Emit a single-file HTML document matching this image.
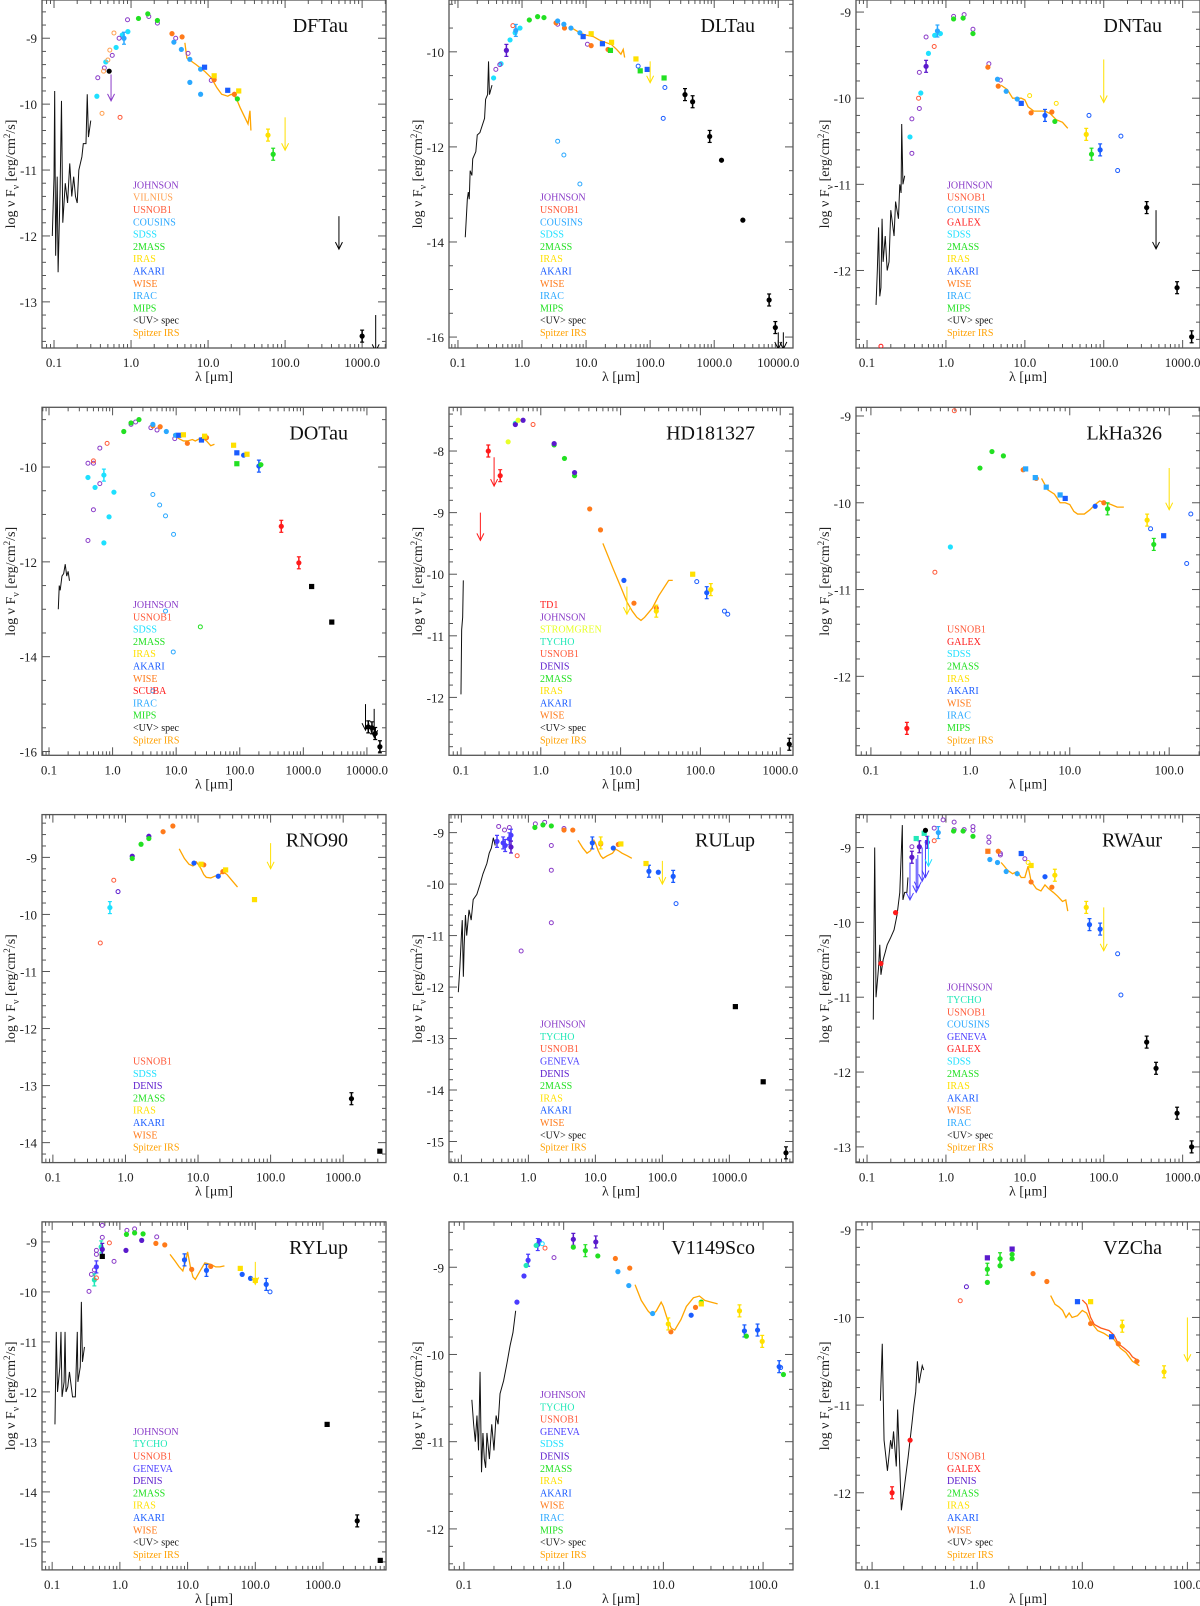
<!DOCTYPE html>
<html><head><meta charset="utf-8">
<style>
html,body{margin:0;padding:0;background:#fff;}
svg{display:block;font-family:"Liberation Serif",serif;}
</style></head>
<body>
<svg id="fig" width="1200" height="1606" viewBox="0 0 1200 1606" xmlns="http://www.w3.org/2000/svg"></svg>
<script>
// ---- Colors per photometric system ----
const COL = {J:'#8a3cc8',V:'#ffa050',U:'#ff5a3a',C:'#2aa8ff',S:'#1ee0ff',M2:'#22e022',I:'#ffe000',A:'#1a5cff',W:'#ff7a1a',IR:'#2aa8ff',MI:'#22e022',UV:'#000',IRS:'#ffa000',G:'#ff1a1a',D:'#5a1acc',T:'#22e8b8',GE:'#4a3cff',SC:'#ff1a1a',TD:'#ff1a1a',ST:'#e8ff2a',K:'#000'};
const LEGNAME = {J:'JOHNSON',V:'VILNIUS',U:'USNOB1',C:'COUSINS',S:'SDSS',M2:'2MASS',I:'IRAS',A:'AKARI',W:'WISE',IR:'IRAC',MI:'MIPS',UV:'<UV> spec',IRS:'Spitzer IRS',G:'GALEX',D:'DENIS',T:'TYCHO',GE:'GENEVA',SC:'SCUBA',TD:'TD1',ST:'STROMGREN'};

// ---- DFTau ----
const DFTau_pts = [[0.36,-9.88,'S','f'],[0.47,-9.36,'S','f'],[0.64,-9.14,'S','f'],[0.91,-8.9,'S','f'],[0.77,-8.95,'S','f'],[0.81,-9.0,'C','e'],
[0.37,-9.6,'J','o'],[0.45,-9.45,'J','o'],[0.57,-9.26,'J','o'],[0.7,-9.0,'J','o'],[0.9,-8.72,'J','o'],[1.7,-8.67,'J','o'],[2.2,-8.77,'J','o'],[3.8,-9.0,'J','o'],[5.5,-9.23,'J','o'],[11,-9.64,'J','o'],
[0.42,-10.14,'V','o'],[0.44,-9.5,'V','o'],[0.5,-9.33,'V','o'],[0.53,-9.18,'V','o'],[0.6,-8.92,'V','o'],[0.72,-10.2,'U','o'],[0.52,-9.5,'K','f'],
[0.55,-9.55,'J','a',-9.95],[1.25,-8.7,'M2','f'],[1.65,-8.63,'M2','f'],[2.2,-8.73,'M2','f'],
[3.4,-8.93,'W','f'],[4.6,-8.98,'W','f'],[12,-9.63,'W','f'],[22,-9.85,'W','f'],
[3.6,-9.06,'IR','f'],[4.5,-9.17,'IR','f'],[5.8,-9.32,'IR','f'],[5.8,-9.67,'IR','f'],[8,-9.85,'IR','f'],[8,-9.47,'IR','f'],
[9,-9.44,'A','s'],[18,-9.79,'A','s'],[12,-9.57,'I','s'],[25,-9.8,'I','s'],[60,-10.47,'I','e'],[24,-9.92,'MI','f'],[70,-10.76,'MI','e'],
[100,-10.2,'I','a',-10.7],[500,-11.7,'K','a',-12.2],[1000,-13.52,'K','e'],[1500,-13.2,'K','a',-13.75]];
const DFTau_irs = [[5,-9.07],[5.3,-9.3],[7,-9.4],[9,-9.5],[11,-9.6],[13,-9.75],[15,-9.85],[18,-9.88],[20,-9.85],[23,-9.9],[26,-10.05],[30,-10.2],[33,-10.3],[35,-10.1],[36,-10.4]];
const DFTau_uv = [[0.095,-12.0],[0.1,-11.1],[0.102,-9.8],[0.105,-12.3],[0.11,-11.1],[0.113,-12.55],[0.12,-11.3],[0.125,-9.95],[0.13,-11.8],[0.14,-11.2],[0.15,-11.5],[0.16,-10.9],[0.17,-11.4],[0.18,-11.1],[0.19,-11.4],[0.2,-11.5],[0.21,-11.0],[0.23,-10.8],[0.24,-10.6],[0.26,-10.6],[0.27,-9.85],[0.28,-10.5],[0.3,-10.25]];

// ---- DLTau ----
const DLTau_pts = [[0.36,-10.55,'S','f'],[0.47,-10.25,'S','f'],[0.65,-9.75,'S','f'],[0.78,-9.6,'S','f'],[0.93,-9.5,'S','f'],
[0.39,-10.37,'J','o'],[0.45,-10.27,'J','o'],[0.57,-9.97,'D','e'],[3.6,-9.42,'J','o'],[10.5,-9.84,'J','o'],[0.72,-9.45,'U','o'],[0.8,-9.55,'C','e'],
[1.3,-9.33,'M2','f'],[1.75,-9.26,'M2','f'],[2.2,-9.28,'M2','f'],
[3.4,-9.39,'W','f'],[4.6,-9.5,'W','f'],[12,-9.87,'W','f'],[22,-9.95,'W','f'],
[3.6,-9.35,'IR','f'],[4.5,-9.42,'IR','f'],[5.8,-9.5,'IR','f'],[8,-9.6,'IR','f'],
[9,-9.68,'A','s'],[18,-9.83,'A','s'],[90,-10.37,'A','s'],[12,-9.62,'I','s'],[25,-9.8,'I','s'],[60,-10.15,'I','s'],
[24,-9.97,'MI','s'],[70,-10.4,'MI','s'],[165,-10.55,'MI','s'],[65,-10.3,'A','o'],[170,-10.75,'A','o'],[160,-11.4,'A','o'],
[3.6,-11.88,'IR','o'],[4.5,-12.17,'IR','o'],[8,-12.78,'IR','o'],[100,-10.2,'I','a',-10.65],
[350,-10.9,'K','e'],[460,-11.05,'K','e'],[850,-11.78,'K','e'],[1300,-12.28,'K','f'],[2800,-13.54,'K','f'],[7200,-15.22,'K','e'],[9000,-15.8,'K','e'],
[10000,-15.9,'K','a',-16.25],[12000,-15.9,'K','a',-16.25]];
const DLTau_irs = [[6,-9.5],[8,-9.6],[10,-9.65],[13,-9.68],[16,-9.75],[20,-9.8],[25,-9.85],[30,-9.95],[35,-10.05],[38,-9.95],[40,-10.12]];
const DLTau_uv = [[0.13,-13.9],[0.14,-13.1],[0.145,-12.95],[0.15,-13.1],[0.155,-12.5],[0.165,-12.6],[0.17,-12.25],[0.19,-12.1],[0.2,-11.75],[0.22,-11.7],[0.26,-11.4],[0.27,-11.0],[0.29,-10.9],[0.3,-10.2],[0.31,-10.9],[0.34,-10.7]];

// ---- DNTau ----
const DNTau_pts = [[0.37,-10.24,'J','o'],[0.37,-10.64,'J','o'],[0.46,-10.12,'J','o'],[0.46,-9.7,'J','o'],[0.56,-9.29,'J','o'],[0.56,-9.63,'D','e'],[1.25,-9.05,'J','o'],[1.7,-9.03,'J','o'],[2.2,-9.2,'J','o'],[3.5,-9.6,'J','o'],[4.9,-9.79,'J','o'],
[0.45,-10.0,'U','o'],[0.71,-9.4,'U','o'],[0.35,-10.45,'S','f'],[0.48,-9.94,'S','f'],[0.6,-9.48,'S','f'],[0.72,-9.27,'S','f'],[0.85,-9.25,'S','f'],[0.78,-9.22,'C','e'],
[1.25,-9.08,'M2','f'],[1.65,-9.07,'M2','f'],[2.2,-9.25,'M2','f'],[24,-10.27,'M2','f'],[70,-10.65,'M2','e'],[0.15,-12.88,'G','o'],
[3.4,-9.64,'W','f'],[4.6,-9.86,'W','f'],[12,-10.17,'W','f'],[22,-10.16,'W','f'],
[4.5,-9.78,'IR','f'],[5.8,-9.92,'IR','f'],[8,-10.01,'IR','f'],[9,-10.06,'A','s'],[18,-10.2,'A','e'],[90,-10.6,'A','e'],
[60,-10.42,'I','e'],[11.5,-9.97,'I','o'],[25,-10.06,'I','o'],[65,-10.2,'A','o'],[150,-10.84,'A','o'],[165,-10.44,'A','o'],
[100,-9.55,'I','a',-10.05],[350,-11.27,'K','e'],[460,-11.3,'K','a',-11.75],[850,-12.2,'K','e'],[1300,-12.77,'K','e']];
const DNTau_irs = [[5,-9.85],[6,-9.9],[7,-10.0],[8,-10.0],[9,-10.0],[10,-10.02],[11,-10.1],[13,-10.15],[15,-10.15],[18,-10.15],[21,-10.18],[25,-10.25],[30,-10.28],[35,-10.35]];
const DNTau_uv = [[0.13,-12.4],[0.135,-12.0],[0.14,-11.5],[0.145,-12.3],[0.15,-12.2],[0.155,-11.4],[0.16,-11.9],[0.17,-11.6],[0.18,-12.0],[0.19,-11.9],[0.2,-11.3],[0.22,-11.6],[0.23,-11.2],[0.25,-11.4],[0.26,-11.0],[0.27,-11.1],[0.275,-10.3],[0.285,-11.0],[0.3,-10.9]];

// ---- DOTau ----
const DOTau_pts = [[0.41,-9.92,'J','o'],[0.41,-11.55,'J','o'],[0.5,-10.9,'J','o'],[0.5,-9.92,'J','o'],[0.63,-9.6,'J','o'],[0.63,-10.35,'J','o'],[1.95,-9.1,'J','o'],[2.3,-9.05,'J','o'],[4,-9.17,'J','o'],[5,-9.22,'J','o'],[9.5,-9.4,'J','o'],
[0.5,-9.87,'U','o'],[0.82,-9.5,'U','o'],[0.41,-10.22,'S','f'],[0.53,-10.43,'S','f'],[0.73,-10.17,'S','e'],[0.88,-11.05,'S','f'],[0.73,-11.6,'S','f'],[1.05,-10.53,'S','f'],
[1.5,-9.25,'M2','f'],[1.95,-9.07,'M2','f'],[2.6,-9.0,'M2','f'],[4.3,-9.13,'W','f'],[5.6,-9.15,'W','f'],[15,-9.5,'W','f'],[30,-9.38,'W','f'],
[4.3,-9.1,'IR','f'],[7,-9.25,'IR','f'],[9.8,-9.33,'IR','f'],[11,-9.33,'A','s'],[25,-9.43,'A','s'],[90,-9.7,'A','s'],[115,-9.75,'A','f'],[200,-9.98,'A','e'],
[13,-9.32,'I','s'],[28,-9.35,'I','s'],[80,-9.54,'I','s'],[130,-9.73,'I','s'],[90,-9.93,'MI','s'],[215,-9.95,'MI','f'],
[4.3,-10.58,'IR','o'],[5.5,-10.8,'IR','o'],[6.8,-11.03,'IR','o'],[9.1,-11.42,'IR','o'],[6.8,-13.04,'IR','o'],[9,-13.9,'IR','o'],[4.3,-14.72,'IR','o'],[24,-13.37,'MI','o'],
[450,-11.25,'SC','e'],[850,-12.02,'SC','e'],[1350,-12.52,'K','s'],[2800,-13.27,'K','s'],[10500,-15.48,'K','e'],[12000,-15.5,'K','e'],[13500,-15.62,'K','e'],[16000,-15.9,'K','e'],
[9500,-15.0,'K','a',-15.55],[13000,-15.1,'K','a',-15.7]];
const DOTau_irs = [[9,-9.3],[11,-9.4],[13,-9.45],[15,-9.45],[18,-9.42],[20,-9.45],[25,-9.38],[30,-9.45],[35,-9.55],[40,-9.52]];
const DOTau_uv = [[0.14,-13.0],[0.145,-12.5],[0.15,-12.6],[0.16,-12.3],[0.17,-12.25],[0.18,-12.05],[0.19,-12.3],[0.2,-12.2],[0.21,-12.4]];

// ---- HD181327 ----
const HD181327_pts = [[0.22,-8.0,'TD','e'],[0.31,-8.4,'TD','e'],[0.26,-8.1,'TD','a',-8.57],[0.175,-9.0,'TD','a',-9.45],[0.39,-7.85,'ST','f'],
[0.48,-7.55,'T','f'],[0.48,-7.57,'D','f'],[0.52,-7.5,'ST','f'],[0.6,-7.5,'D','f'],[0.8,-7.57,'U','o'],
[1.47,-7.9,'M2','f'],[1.98,-8.12,'M2','f'],[2.65,-8.4,'M2','f'],[1.47,-7.88,'D','f'],[2.65,-8.35,'D','f'],
[4.1,-8.94,'W','f'],[5.6,-9.28,'W','f'],[14.7,-10.47,'W','f'],[28,-10.55,'W','f'],[11,-10.1,'A','f'],[120,-10.3,'A','e'],
[80,-10.0,'I','s'],[135,-10.25,'I','e'],[28,-10.6,'I','e'],[90,-10.12,'A','o'],[200,-10.6,'A','o'],[220,-10.65,'A','o'],
[12,-10.2,'I','a',-10.65],[1300,-12.76,'K','e']];
const HD181327_irs = [[6,-9.5],[8,-9.9],[10,-10.2],[12,-10.45],[14,-10.6],[16,-10.7],[18,-10.75],[20,-10.7],[25,-10.55],[30,-10.35],[40,-10.1],[45,-10.1]];
const HD181327_uv = [[0.1,-11.95],[0.102,-10.9],[0.105,-10.7],[0.107,-10.1]];

// ---- LkHa326 ----
const LkHa326_pts = [[0.69,-8.94,'U','o'],[0.44,-10.8,'U','o'],[0.63,-10.51,'S','f'],
[1.25,-9.6,'M2','f'],[1.65,-9.41,'M2','f'],[2.15,-9.46,'M2','f'],[3.4,-9.62,'W','f'],[4.6,-9.72,'W','f'],[22,-10.0,'W','f'],
[3.6,-9.61,'IR','s'],[4.5,-9.71,'IR','s'],[5.8,-9.82,'IR','s'],[8,-9.91,'IR','s'],[9,-9.95,'A','s'],[18,-10.04,'A','f'],[88,-10.38,'A','s'],
[24,-10.07,'MI','e'],[70,-10.48,'MI','e'],[60,-10.2,'I','e'],[100,-9.6,'I','a',-10.08],[65,-10.3,'A','o'],[150,-10.7,'A','o'],[165,-10.13,'A','o'],[0.23,-12.6,'G','e']];
const LkHa326_irs = [[5.2,-9.72],[6,-9.85],[7,-9.9],[8,-10.0],[9,-10.0],[10,-10.02],[11,-10.1],[12,-10.13],[14,-10.13],[16,-10.08],[18,-10.02],[20,-9.98],[23,-10.0],[26,-10.02],[30,-10.05],[35,-10.05]];
const LkHa326_uv = [];

// ---- RNO90 ----
const RNO90_pts = [[0.45,-10.5,'U','o'],[0.69,-9.4,'U','o'],[0.79,-9.6,'D','o'],[1.24,-8.98,'D','f'],[2.1,-8.63,'D','f'],[0.61,-9.88,'S','e'],
[1.24,-9.02,'M2','f'],[1.64,-8.77,'M2','f'],[2.1,-8.67,'M2','f'],[3.3,-8.55,'W','f'],[4.5,-8.45,'W','f'],[12,-9.13,'W','f'],[22,-9.25,'W','f'],
[8.8,-9.1,'A','f'],[19,-9.33,'A','f'],[11,-9.12,'I','s'],[24,-9.22,'I','s'],[60,-9.74,'I','s'],[100,-8.75,'I','a',-9.2],
[1300,-13.23,'K','e'],[3200,-14.15,'K','s']];
const RNO90_irs = [[5.5,-8.85],[6.5,-9.02],[7.5,-9.12],[8.5,-9.15],[9.5,-9.08],[10,-9.12],[11,-9.2],[12,-9.3],[13,-9.35],[15,-9.36],[17,-9.33],[20,-9.3],[22,-9.25],[25,-9.3],[30,-9.42],[35,-9.52]];
const RNO90_uv = [];

// ---- RULup ----
const RULup_pts = [[0.36,-8.88,'J','o'],[0.44,-8.95,'J','o'],[0.52,-8.9,'J','o'],[0.68,-9.45,'U','o'],[0.78,-11.3,'J','o'],[1.27,-8.83,'J','o'],[1.75,-8.8,'J','o'],[2.2,-9.25,'J','o'],[2.2,-9.73,'J','o'],[2.2,-10.75,'J','o'],[3.4,-8.92,'J','o'],
[0.34,-9.17,'GE','e'],[0.42,-9.2,'GE','e'],[0.45,-9.25,'GE','e'],[0.52,-9.12,'GE','e'],[0.55,-9.05,'GE','e'],[0.55,-9.28,'D','e'],
[1.25,-8.9,'M2','f'],[1.65,-8.85,'M2','f'],[2.2,-8.87,'M2','f'],[3.4,-8.95,'W','f'],[4.6,-8.95,'W','f'],[12,-9.22,'W','f'],[22,-9.23,'W','f'],
[9,-9.2,'A','e'],[18.5,-9.3,'A','f'],[63,-9.75,'A','e'],[87,-9.77,'A','f'],[145,-9.85,'A','e'],[12,-9.2,'I','e'],[24,-9.22,'I','s'],[57,-9.6,'I','s'],
[100,-9.55,'I','a',-10.0],[160,-10.38,'A','o'],[1230,-12.38,'K','s'],[3200,-13.84,'K','s'],[7000,-15.22,'K','e']];
const RULup_irs = [[5.5,-9.15],[6.5,-9.3],[7.5,-9.4],[8.5,-9.35],[9.5,-9.15],[10,-9.2],[11,-9.35],[12,-9.45],[13,-9.5],[15,-9.45],[18,-9.4],[20,-9.32],[22,-9.35],[25,-9.4],[30,-9.45],[35,-9.5]];
const RULup_uv = [[0.09,-12.1],[0.095,-11.6],[0.1,-11.0],[0.103,-10.7],[0.107,-11.8],[0.11,-11.2],[0.115,-10.6],[0.12,-11.0],[0.13,-10.5],[0.14,-10.7],[0.15,-10.3],[0.17,-10.2],[0.19,-10.0],[0.21,-9.8],[0.24,-9.6],[0.26,-9.4],[0.28,-9.3],[0.3,-9.1],[0.32,-9.25]];

// ---- RWAur ----
const RWAur_pts = [[0.37,-9.13,'D','e'],[0.46,-8.99,'D','e'],[0.58,-8.93,'D','e'],[0.37,-8.99,'J','o'],[0.71,-8.74,'J','o'],[0.92,-8.63,'J','o'],[1.27,-8.66,'J','o'],[1.27,-8.76,'J','o'],[1.7,-8.76,'J','o'],[2.2,-8.72,'J','o'],[2.2,-8.77,'J','o'],[3.5,-8.86,'J','o'],[3.5,-8.93,'J','o'],[4.9,-9.08,'J','o'],[4.9,-9.1,'J','o'],[10,-9.15,'J','o'],[11,-9.2,'I','o'],
[0.42,-8.88,'T','s'],[0.53,-8.81,'T','s'],[0.55,-8.77,'K','f'],[0.71,-8.91,'U','o'],[0.8,-8.8,'C','e'],
[0.35,-9.2,'GE','a',-9.7],[0.42,-9.15,'GE','a',-9.6],[0.44,-9.1,'GE','a',-9.55],[0.5,-9.0,'GE','a',-9.45],[0.55,-8.9,'GE','a',-9.4],[0.6,-8.85,'S','a',-9.25],
[0.23,-9.87,'G','f'],[0.15,-10.55,'G','f'],[1.25,-8.78,'M2','f'],[1.65,-8.78,'M2','f'],[2.2,-8.85,'M2','f'],
[3.4,-9.05,'W','s'],[4.6,-9.05,'W','f'],[12,-9.46,'W','f'],[22,-9.53,'W','f'],[3.6,-9.16,'IR','f'],[4.5,-9.2,'IR','f'],[5.8,-9.32,'IR','f'],[8,-9.35,'IR','f'],
[9,-9.08,'A','s'],[18,-9.39,'A','f'],[66,-10.03,'A','e'],[90,-10.09,'A','e'],[12,-9.24,'I','s'],[24,-9.37,'I','e'],[60,-9.8,'I','e'],[100,-9.8,'I','a',-10.38],
[150,-10.42,'A','o'],[165,-10.97,'A','o'],[350,-11.6,'K','e'],[460,-11.95,'K','e'],[850,-12.55,'K','e'],[1300,-13.0,'K','e']];
const RWAur_irs = [[5,-9.2],[5.5,-9.25],[6,-9.3],[7,-9.35],[8,-9.32],[9,-9.4],[10,-9.4],[11,-9.25],[12,-9.45],[14,-9.55],[16,-9.58],[18,-9.5],[20,-9.55],[23,-9.6],[26,-9.65],[30,-9.72],[33,-9.7],[35,-9.85]];
const RWAur_uv = [[0.12,-11.3],[0.125,-9.0],[0.13,-11.0],[0.14,-10.6],[0.145,-10.3],[0.15,-10.7],[0.16,-10.5],[0.17,-10.4],[0.18,-10.3],[0.2,-10.2],[0.22,-10.1],[0.24,-9.9],[0.26,-9.6],[0.28,-8.7],[0.285,-9.7],[0.3,-9.6],[0.32,-9.6],[0.33,-9.4]];

// ---- RYLup ----
const RYLup_pts = [[0.35,-9.99,'J','o'],[0.38,-9.65,'J','o'],[0.42,-9.56,'J','o'],[0.45,-9.17,'J','o'],[0.45,-9.25,'J','o'],[0.55,-8.67,'J','o'],[0.55,-8.91,'J','o'],[0.82,-9.39,'J','o'],[1.27,-8.77,'J','o'],[1.65,-8.74,'J','o'],[3.5,-8.9,'J','o'],
[0.42,-9.76,'T','e'],[0.53,-9.1,'T','e'],[0.7,-9.02,'U','o'],[0.45,-9.72,'U','o'],[0.45,-9.5,'GE','e'],[0.55,-9.15,'D','e'],[1.23,-9.17,'D','f'],[2.1,-8.97,'D','f'],
[1.25,-8.85,'M2','f'],[1.65,-8.82,'M2','f'],[2.2,-8.84,'M2','f'],[0.55,-9.29,'K','s'],
[3.4,-9.03,'W','f'],[4.6,-9.06,'W','f'],[11.5,-9.55,'W','f'],[22,-9.49,'W','f'],
[9,-9.36,'A','e'],[19,-9.57,'A','e'],[64,-9.65,'A','f'],[85,-9.73,'A','f'],[145,-9.85,'A','e'],[60,-9.53,'I','s'],[100,-9.77,'I','s'],[100,-9.4,'I','a',-9.85],
[165,-10.0,'A','o'],[1150,-12.65,'K','s'],[3200,-14.58,'K','e'],[7000,-15.37,'K','s']];
const RYLup_irs = [[5.5,-9.25],[6.5,-9.38],[7.5,-9.5],[8.5,-9.58],[9.5,-9.35],[10,-9.2],[11,-9.5],[12,-9.7],[13,-9.75],[15,-9.6],[18,-9.42],[22,-9.45],[26,-9.5],[30,-9.5],[35,-9.48]];
const RYLup_uv = [[0.11,-12.65],[0.115,-10.8],[0.12,-12.0],[0.13,-11.5],[0.135,-10.8],[0.14,-12.1],[0.15,-11.8],[0.155,-10.8],[0.16,-12.0],[0.17,-11.9],[0.18,-11.6],[0.2,-12.1],[0.22,-12.1],[0.235,-10.8],[0.24,-11.8],[0.26,-11.5],[0.27,-10.2],[0.28,-11.4],[0.3,-11.1]];

// ---- V1149Sco ----
const V1149Sco_pts = [[0.34,-9.4,'GE','f'],[0.4,-9.1,'GE','f'],[0.44,-8.92,'GE','e'],[0.55,-8.74,'GE','e'],[0.57,-8.7,'GE','f'],[0.42,-8.98,'T','f'],[0.53,-8.75,'T','f'],[0.61,-8.73,'S','o'],[0.65,-8.78,'U','o'],[0.8,-8.89,'J','o'],
[1.25,-8.68,'D','e'],[2.1,-8.71,'D','e'],[1.25,-8.77,'M2','f'],[1.65,-8.81,'M2','e'],[2.2,-8.87,'M2','f'],
[3.3,-8.9,'W','f'],[4.6,-9.01,'W','f'],[11.9,-9.74,'W','f'],[21,-9.46,'W','f'],[3.5,-9.05,'IR','f'],[4.5,-9.21,'IR','f'],[7.8,-9.53,'IR','f'],
[19,-9.55,'A','f'],[65,-9.73,'A','e'],[88,-9.72,'A','e'],[145,-10.14,'A','e'],[150,-10.15,'A','o'],[24,-9.4,'MI','f'],[68,-9.79,'MI','f'],[160,-10.23,'MI','f'],
[11.2,-9.65,'I','e'],[24,-9.42,'I','s'],[58,-9.5,'I','e'],[98,-9.85,'I','e']];
const V1149Sco_irs = [[5.2,-9.2],[6,-9.38],[7,-9.5],[7.7,-9.55],[8.5,-9.5],[9.5,-9.4],[10,-9.45],[11,-9.6],[12,-9.7],[13,-9.72],[15,-9.6],[17,-9.45],[20,-9.35],[23,-9.33],[26,-9.38],[30,-9.4],[35,-9.42]];
const V1149Sco_uv = [[0.12,-10.52],[0.125,-10.8],[0.13,-11.0],[0.135,-10.7],[0.14,-11.1],[0.145,-10.2],[0.15,-11.35],[0.155,-10.9],[0.16,-11.2],[0.165,-11.3],[0.17,-10.9],[0.18,-11.2],[0.19,-10.8],[0.2,-11.1],[0.21,-10.7],[0.22,-10.8],[0.23,-10.45],[0.25,-10.3],[0.27,-10.1],[0.29,-9.9],[0.31,-9.75],[0.33,-9.5]];

// ---- VZCha ----
const VZCha_pts = [[0.69,-9.81,'U','o'],[0.79,-9.65,'D','o'],[1.25,-9.32,'D','s'],[2.15,-9.22,'D','s'],[1.25,-9.45,'M2','e'],[1.25,-9.6,'M2','f'],[1.65,-9.33,'M2','e'],[1.65,-9.41,'M2','f'],[2.15,-9.28,'M2','f'],[2.15,-9.33,'M2','f'],
[3.4,-9.5,'W','f'],[4.6,-9.59,'W','f'],[12,-10.07,'W','f'],[22,-10.3,'W','f'],[33,-10.5,'W','f'],[9,-9.82,'A','s'],[19,-10.22,'A','s'],
[12,-9.82,'I','s'],[24,-10.1,'I','e'],[60,-10.62,'I','e'],[100,-10.0,'I','a',-10.5],[0.155,-12.0,'G','e'],[0.23,-11.4,'G','f']];
const VZCha_irs = [[5,-9.75],[5.5,-9.85],[6,-9.88],[6.5,-9.92],[7,-10.0],[7.5,-9.95],[8,-10.0],[9,-9.98],[10,-9.92],[11,-9.95],[12,-10.05],[14,-10.15],[16,-10.18],[18,-10.22],[20,-10.25],[23,-10.35],[26,-10.4],[30,-10.5],[35,-10.55]];
const VZCha_irs2 = [[10,-9.8],[11,-9.85],[12,-10.0],[13,-10.08],[15,-10.12],[18,-10.15],[20,-10.2],[22,-10.3],[25,-10.35],[28,-10.4],[30,-10.45],[35,-10.5]];
const VZCha_uv = [[0.12,-10.95],[0.125,-10.3],[0.13,-11.4],[0.14,-11.75],[0.15,-11.4],[0.155,-11.5],[0.16,-11.3],[0.17,-11.7],[0.175,-11.05],[0.19,-12.2],[0.22,-11.6],[0.24,-11.2],[0.25,-11.0],[0.26,-10.85],[0.27,-10.5],[0.28,-10.75],[0.3,-10.55],[0.31,-10.6]];

// ---- Panel axes (log10 ranges) ----
const PANELS = [
 {name:'DFTau',col:0,row:0,xlo:-1.156,xhi:3.31,ylo:-13.70,yhi:-8.42,ymaj:1,pts:DFTau_pts,irs:[DFTau_irs],uv:DFTau_uv,leg:['J','V','U','C','S','M2','I','A','W','IR','MI','UV','IRS']},
 {name:'DLTau',col:1,row:0,xlo:-1.14,xhi:4.23,ylo:-16.23,yhi:-8.91,ymaj:2,pts:DLTau_pts,irs:[DLTau_irs],uv:DLTau_uv,leg:['J','U','C','S','M2','I','A','W','IR','MI','UV','IRS']},
 {name:'DNTau',col:2,row:0,xlo:-1.14,xhi:3.22,ylo:-12.9,yhi:-8.86,ymaj:1,pts:DNTau_pts,irs:[DNTau_irs],uv:DNTau_uv,leg:['J','U','C','G','S','M2','I','A','W','IR','MI','UV','IRS']},
 {name:'DOTau',col:0,row:1,xlo:-1.11,xhi:4.3,ylo:-16.08,yhi:-8.74,ymaj:2,pts:DOTau_pts,irs:[DOTau_irs],uv:DOTau_uv,leg:['J','U','S','M2','I','A','W','SC','IR','MI','UV','IRS']},
 {name:'HD181327',col:1,row:1,xlo:-1.15,xhi:3.16,ylo:-12.94,yhi:-7.29,ymaj:1,pts:HD181327_pts,irs:[HD181327_irs],uv:HD181327_uv,leg:['TD','J','ST','T','U','D','M2','I','A','W','UV','IRS']},
 {name:'LkHa326',col:2,row:1,xlo:-1.15,xhi:2.31,ylo:-12.91,yhi:-8.9,ymaj:1,pts:LkHa326_pts,irs:[LkHa326_irs],uv:LkHa326_uv,leg:['U','G','S','M2','I','A','W','IR','MI','IRS']},
 {name:'RNO90',col:0,row:2,xlo:-1.15,xhi:3.59,ylo:-14.35,yhi:-8.25,ymaj:1,pts:RNO90_pts,irs:[RNO90_irs],uv:RNO90_uv,leg:['U','S','D','M2','I','A','W','IRS']},
 {name:'RULup',col:1,row:2,xlo:-1.185,xhi:3.95,ylo:-15.41,yhi:-8.65,ymaj:1,pts:RULup_pts,irs:[RULup_irs],uv:RULup_uv,leg:['J','T','U','GE','D','M2','I','A','W','UV','IRS']},
 {name:'RWAur',col:2,row:2,xlo:-1.14,xhi:3.22,ylo:-13.21,yhi:-8.56,ymaj:1,pts:RWAur_pts,irs:[RWAur_irs],uv:RWAur_uv,leg:['J','T','U','C','GE','G','S','M2','I','A','W','IR','UV','IRS']},
 {name:'RYLup',col:0,row:3,xlo:-1.15,xhi:3.93,ylo:-15.56,yhi:-8.6,ymaj:1,pts:RYLup_pts,irs:[RYLup_irs],uv:RYLup_uv,leg:['J','T','U','GE','D','M2','I','A','W','UV','IRS']},
 {name:'V1149Sco',col:1,row:3,xlo:-1.15,xhi:2.3,ylo:-12.47,yhi:-8.48,ymaj:1,pts:V1149Sco_pts,irs:[V1149Sco_irs],uv:V1149Sco_uv,leg:['J','T','U','GE','S','D','M2','I','A','W','IR','MI','UV','IRS']},
 {name:'VZCha',col:2,row:3,xlo:-1.153,xhi:2.12,ylo:-12.88,yhi:-8.91,ymaj:1,pts:VZCha_pts,irs:[VZCha_irs,VZCha_irs2],uv:VZCha_uv,leg:['U','G','D','M2','I','A','W','UV','IRS']}
];

const NS='http://www.w3.org/2000/svg';
const fig=document.getElementById('fig');
function el(tag,parent){const e=document.createElementNS(NS,tag);parent.appendChild(e);return e;}
function att(e,o){for(const k in o)e.setAttribute(k,o[k]);return e;}

PANELS.forEach(p=>{
  const L=42+407*p.col, T=407.3*p.row, W=344, H=348;
  const g=el('g',fig);
  
  
  const sx=l=>L+(Math.log10(l)-p.xlo)/(p.xhi-p.xlo)*W;
  const sy=v=>T+(p.yhi-v)/(p.yhi-p.ylo)*H;
  const fc='#555';
  // frame
  const fr=att(el('rect',g),{x:L,y:T,width:W,height:H,fill:'none',stroke:fc,'stroke-width':1.3});
  
  
  // x ticks
  const xt=el('g',g);
  
  
  for(let k=Math.floor(p.xlo);k<=Math.ceil(p.xhi);k++){
    for(let m=1;m<10;m++){
      const lv=k+Math.log10(m); if(lv<p.xlo||lv>p.xhi) continue;
      const x=L+(lv-p.xlo)/(p.xhi-p.xlo)*W; const len=m===1?8:4;
      att(el('line',xt),{x1:x,x2:x,y1:T+H,y2:T+H-len,stroke:fc,'stroke-width':1});
      att(el('line',xt),{x1:x,x2:x,y1:T,y2:T+len,stroke:fc,'stroke-width':1});
      if(m===1){
        const t=att(el('text',xt),{x:x,y:T+H+19,'font-size':13,'text-anchor':'middle',fill:'#222'});
        t.textContent=k<0?String(Math.pow(10,k)):(Math.pow(10,k)).toFixed(1);
        
        
      }
    }
  }
  const xl=att(el('text',g),{x:L+W/2,y:T+H+33,'font-size':14,'text-anchor':'middle',fill:'#222'});
  xl.textContent='λ [μm]';
  
  
  // y ticks
  const yt=el('g',g);
  
  
  const mstep=p.ymaj===2?0.5:0.2;
  for(let v=Math.ceil(p.ylo/mstep)*mstep;v<=p.yhi+1e-9;v+=mstep){
    const y=sy(v); const isMaj=Math.abs(v/p.ymaj-Math.round(v/p.ymaj))<1e-6; const len=isMaj?8:4;
    att(el('line',yt),{x1:L,x2:L+len,y1:y,y2:y,stroke:fc,'stroke-width':1});
    att(el('line',yt),{x1:L+W,x2:L+W-len,y1:y,y2:y,stroke:fc,'stroke-width':1});
    if(isMaj){
      const t=att(el('text',yt),{x:L-5,y:y+5,'font-size':13,'text-anchor':'end',fill:'#222'});
      t.textContent=String(Math.round(v));
      
      
    }
  }
  const yl=att(el('text',g),{transform:`translate(${L-27},${T+H/2}) rotate(-90)`,'font-size':14,'text-anchor':'middle',fill:'#222'});
  yl.innerHTML='log ν F<tspan dy="4" font-size="10">ν</tspan><tspan dy="-4"> [erg/cm</tspan><tspan dy="-5" font-size="9">2</tspan><tspan dy="5">/s]</tspan>';
  
  
  // title
  const ti=att(el('text',g),{x:L+W-38,y:T+32,'font-size':20,'text-anchor':'end',fill:'#111'});
  ti.textContent=p.name;
  
  
  // clip
  const cid='c'+p.name;
  const cp=att(el('clipPath',g),{id:cid});
  att(el('rect',cp),{x:L,y:T,width:W,height:H});
  const dg=att(el('g',g),{'clip-path':`url(#${cid})`});
  
  
  // UV spectrum
  if(p.uv.length){
    const pl=att(el('polyline',dg),{points:p.uv.map(d=>sx(d[0])+','+sy(d[1])).join(' '),fill:'none',stroke:'#111','stroke-width':1});
    
    
  }
  // IRS spectra
  p.irs.forEach((s,i)=>{
    const pl=att(el('polyline',dg),{points:s.map(d=>sx(d[0])+','+sy(d[1])).join(' '),fill:'none',stroke:i?'#ff5a1a':'#ffa500','stroke-width':1.3});
    
    
  });
  // points
  p.pts.forEach(d=>{
    const x=sx(d[0]), y=sy(d[1]), c=COL[d[2]], m=d[3];
    let e;
    if(m==='a'){
      const y2=sy(d[4]);
      e=el('g',dg);
      att(el('line',e),{x1:x,x2:x,y1:y,y2:y2,stroke:c,'stroke-width':1});
      att(el('polyline',e),{points:`${x-3.5},${y2-7} ${x},${y2} ${x+3.5},${y2-7}`,fill:'none',stroke:c,'stroke-width':1});
      
    } else if(m==='o'){
      e=att(el('circle',dg),{cx:x,cy:y,r:2,fill:'none',stroke:c,'stroke-width':1});
      
    } else if(m==='s'){
      e=att(el('rect',dg),{x:x-2.6,y:y-2.6,width:5.2,height:5.2,fill:c});
      
    } else {
      e=el('g',dg);
      att(el('circle',e),{cx:x,cy:y,r:2.6,fill:c});
      if(m==='e'){
        const dy=6;
        att(el('line',e),{x1:x,x2:x,y1:y-dy,y2:y+dy,stroke:c,'stroke-width':1.5});
        att(el('line',e),{x1:x-2,x2:x+2,y1:y-dy,y2:y-dy,stroke:c,'stroke-width':1.2});
        att(el('line',e),{x1:x-2,x2:x+2,y1:y+dy,y2:y+dy,stroke:c,'stroke-width':1.2});
      }
      
    }
    
  });
  // legend
  const lg=el('g',g);
  
  
  const n=p.leg.length;
  p.leg.forEach((k,i)=>{
    const t=att(el('text',lg),{x:L+91,y:T+H-12-(n-1-i)*12.3,'font-size':10,fill:COL[k]==='#000'?'#111':COL[k]});
    t.textContent=LEGNAME[k];
    
    
  });
});
</script>
</body></html>
